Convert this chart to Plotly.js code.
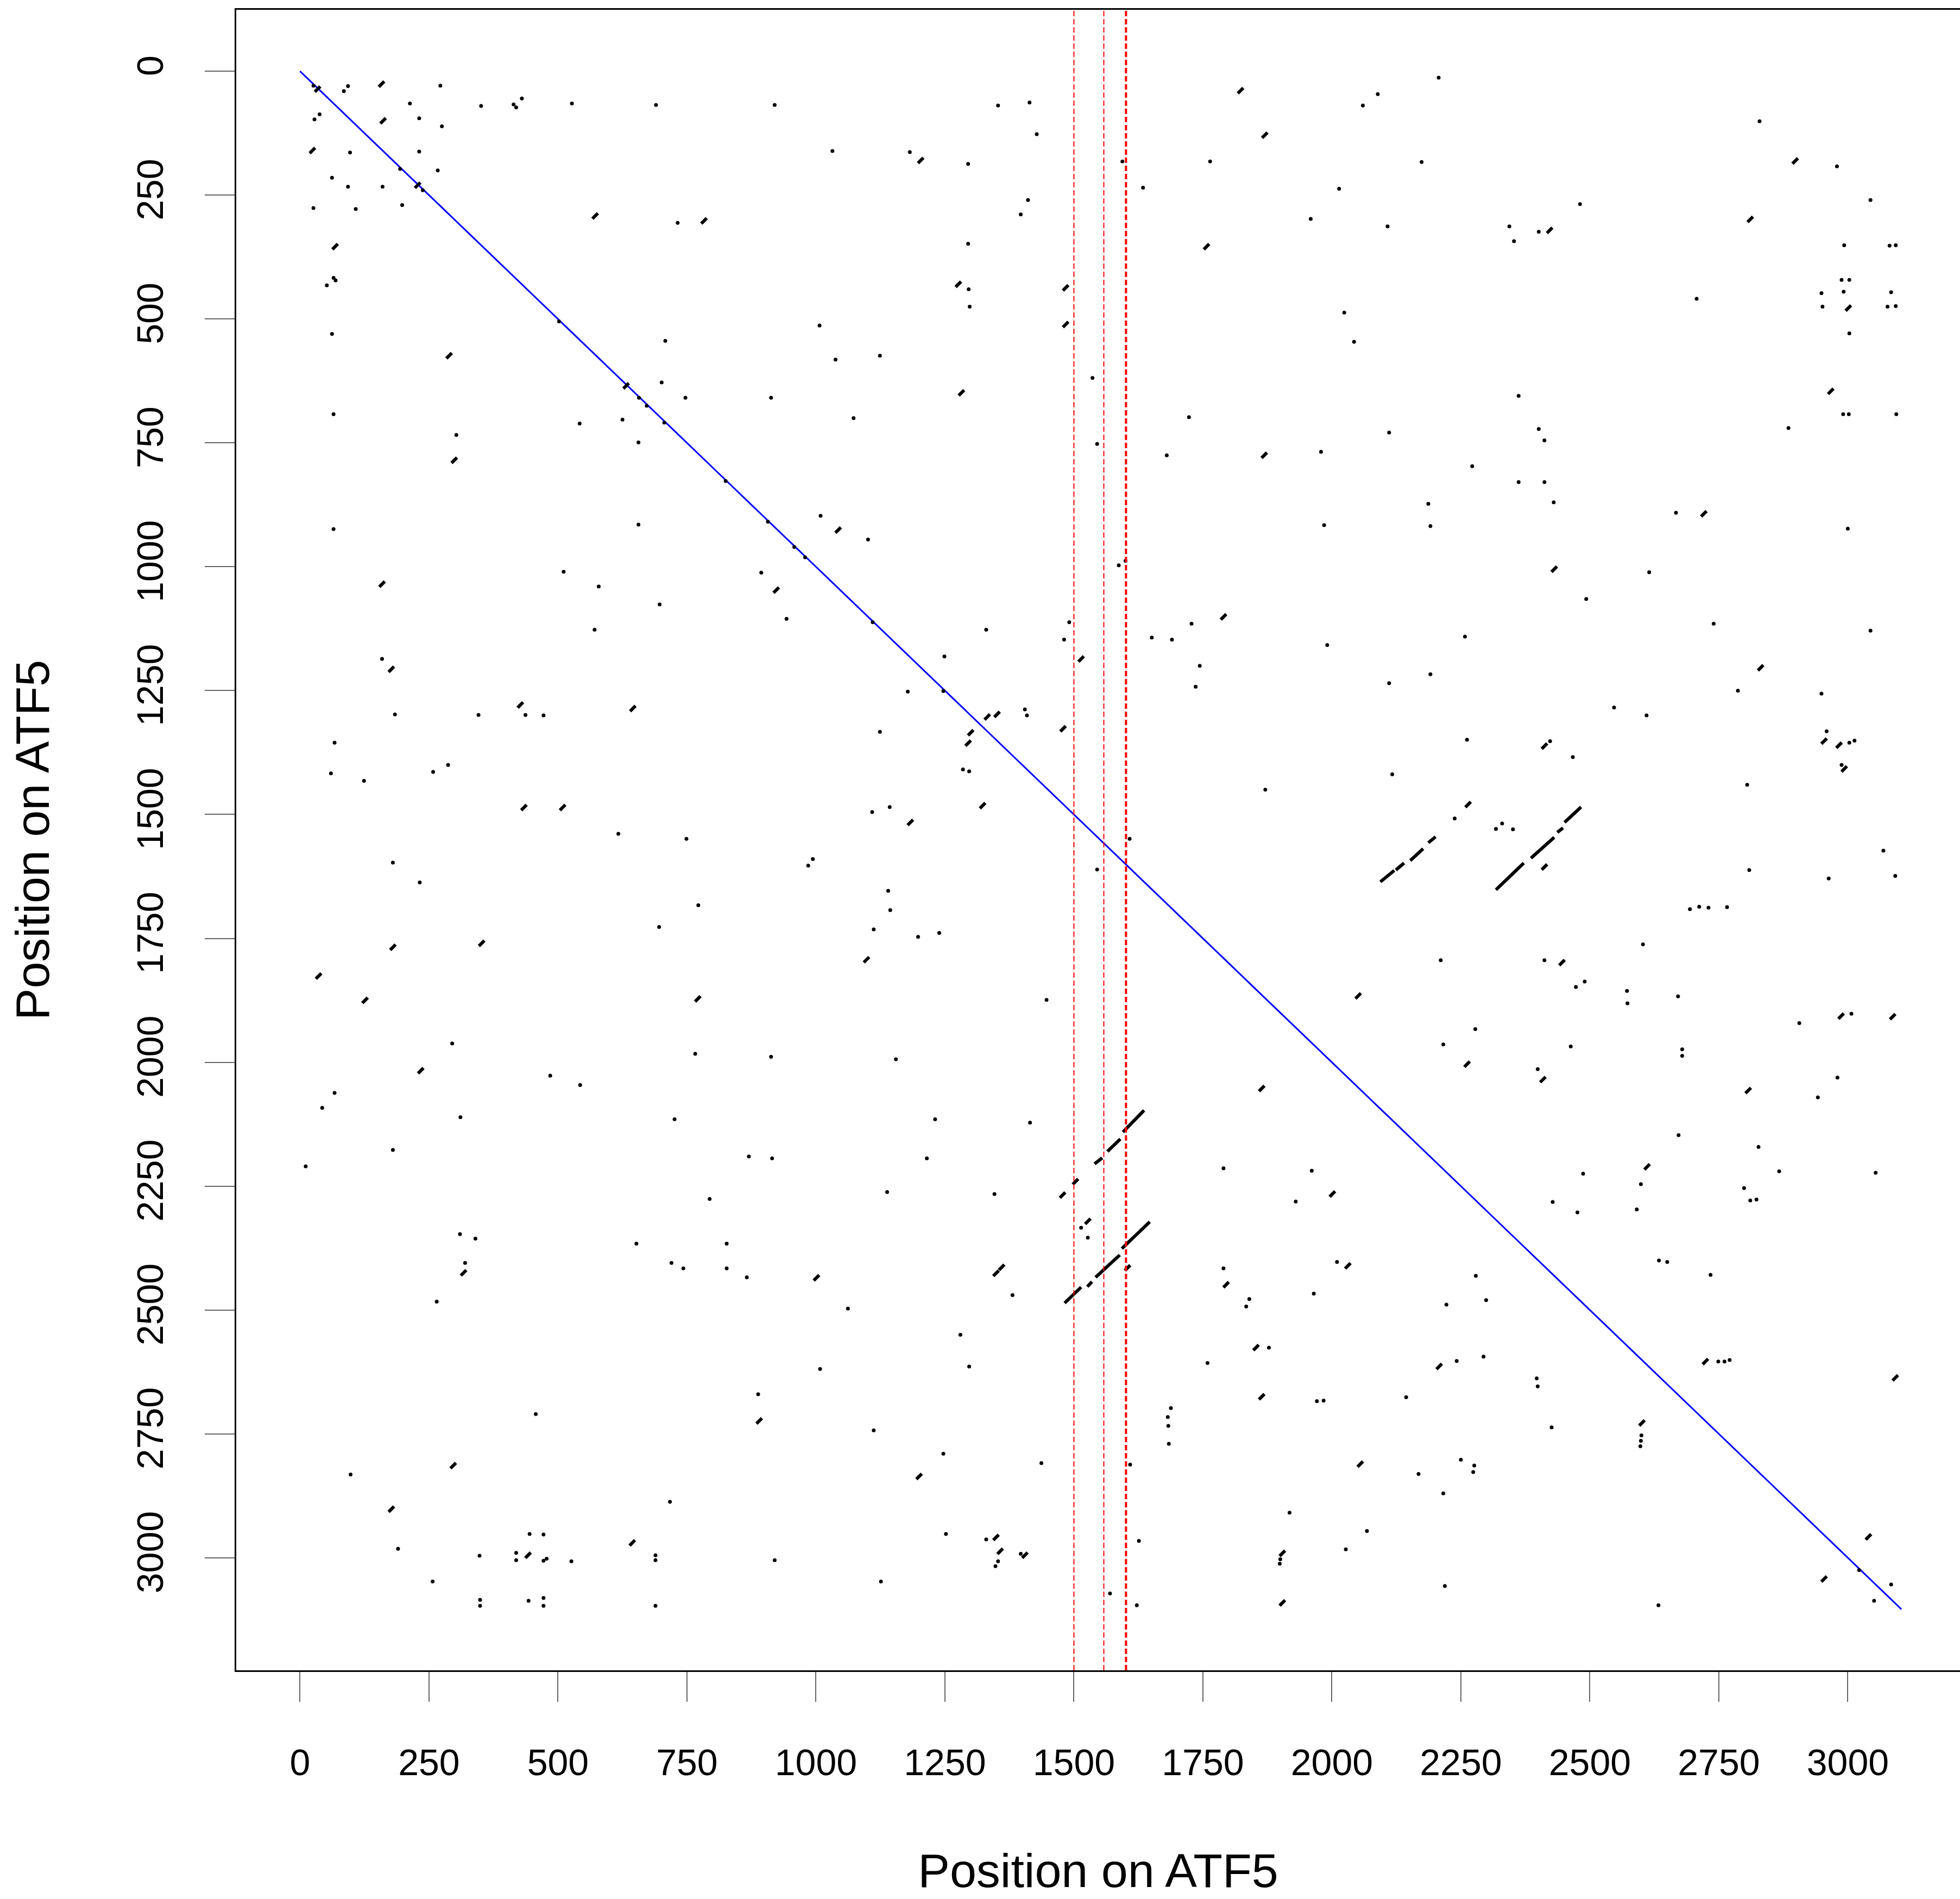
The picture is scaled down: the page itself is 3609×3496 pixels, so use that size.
<!DOCTYPE html>
<html>
<head>
<meta charset="utf-8">
<script src="https://cdn.plot.ly/plotly-3.0.1.min.js"></script>
<style>
html,body{margin:0;padding:0;background:#ffffff;}
#chart{width:3609px;height:3496px;}
</style>
</head>
<body>
<div id="chart"></div>
<script>
// ---------------- data ----------------
const seqLength = 3104;                       // length of ATF5 (self-diagonal)
const tickValues = [0,250,500,750,1000,1250,1500,1750,2000,2250,2500,2750,3000];
const tickLabels = ["0","250","500","750","1000","1250","1500","1750","2000","2250","2500","2750","3000"];
const regionLines = [1500, 1558, 1601];       // vertical marker positions

// short word matches (dots)
const dotX = [
  26,85,93,272,213,351,414,419,430,527,690,920,28,38,231,275,97,231,194,267,62,93,160,238,26,108,198,732,65,69,52,62,502,708,701,657,672,747,913,706,542,625,65,303,656,825,65,656,907,958,979,
  2089,2060,1353,1414,1428,1032,1182,1295,1594,1764,1634,2014,1411,1397,1959,2108,1295,1296,1298,1007,2024,1038,1124,2043,1536,1073,1723,1545,1680,1979,2111,1009,1101,1985,1587,1600,
  2207,2174,2829,2979,3044,2481,2344,2353,2401,2993,3081,3093,2988,3003,2949,2992,3084,2951,3077,3093,2707,3003,2362,2991,3002,3094,2885,2401,2412,2272,2362,2412,2430,2187,2191,2667,3000,
  511,579,894,697,943,571,159,184,346,437,472,67,60,124,258,287,617,749,985,994,180,232,772,696,295,766,913,485,543,67,43,311,726,
  180,11,870,915,794,310,340,320,652,827,720,743,827,866,265,888,457,98,717,445,472,190,348,419,419,472,478,526,689,689,920,257,349,349,443,472,472,689,
  1110,1330,1491,1481,1651,1690,1728,1991,1744,1736,2111,1249,1178,1247,1405,1409,1124,1285,1297,1871,2117,1109,1143,1608,1545,1140,1144,1112,1198,1239,1447,1155,
  2615,2493,2740,3044,2258,2191,2787,2949,2547,2610,2262,2423,2467,2805,2959,3003,3013,2988,2238,2318,2330,2351,3069,2809,2963,3092,2694,2712,2730,2766,2603,2211,2412,2473,2490,2572,2573,2671,2906,3007,2278,2216,2463,2679,2679,2399,2980,2942,
  1231,1415,1215,1138,1346,1790,1961,1930,1062,1381,1790,1840,1834,2010,1965,1280,1008,1297,1759,1878,1971,1984,1688,1682,1683,1684,1112,1247,1437,1609,1918,2068,1626,1252,1330,1353,1348,1397,2027,1900,1899,1126,1570,1622,1514,1527,
  2672,2827,2487,2599,2867,3054,2799,2811,2823,2428,2476,2591,2634,2650,2734,2279,2299,2222,2294,2242,2749,2761,2771,2397,2399,2144,2426,2600,2599,2598,2250,2276,2274,2168,2216,3022,3084,3051,2219,2633
];
const dotY = [
  29,40,30,29,65,70,67,73,55,65,68,68,97,87,95,111,164,162,197,200,215,233,233,240,276,278,270,306,417,422,432,530,505,544,628,659,675,659,659,709,711,703,692,734,749,827,924,915,909,960,981,
  46,69,69,63,127,161,163,187,182,182,235,237,260,289,298,313,348,440,475,513,487,582,574,546,619,700,698,752,775,768,729,897,945,916,997,988,
  13,183,101,192,260,268,313,343,324,351,352,351,421,421,448,445,446,475,475,474,459,529,655,692,692,692,720,722,745,797,829,829,870,873,918,891,923,
  1010,1040,1012,1076,1105,1127,1186,1298,1299,1299,1300,1355,1417,1432,1414,1400,1539,1549,1603,1590,1597,1637,1683,1727,1962,1983,1989,2027,2046,2062,2092,2111,2115,
  2177,2210,2190,2194,2276,2347,2356,2405,2366,2366,2405,2416,2416,2434,2483,2670,2710,2832,2887,2952,2953,2982,2996,2990,3005,3006,3002,3007,2995,3005,3005,3048,3085,3097,3087,3081,3097,3097,
  1112,1127,1112,1147,1143,1147,1115,1158,1200,1242,1235,1181,1252,1251,1288,1300,1333,1409,1413,1450,1419,1495,1485,1549,1611,1654,1693,1732,1747,1739,1874,1994,
  1011,1065,1115,1129,1141,1217,1250,1256,1284,1300,1349,1352,1384,1440,1332,1355,1351,1400,1508,1529,1518,1530,1573,1612,1629,1624,1691,1686,1688,1687,1762,1794,1794,1848,1837,1856,1881,1867,1921,1902,1933,1964,1968,1974,1987,2014,2031,2071,
  2115,2122,2194,2262,2266,2214,2219,2281,2497,2470,2416,2478,2493,2403,2467,2550,2619,2614,2607,2576,2684,2683,2698,2716,2734,2770,2743,2790,2809,2812,2909,2946,2966,2952,2963,3007,3017,2992,2983,3003,3012,3048,3072,3096,2334,2354,
  2147,2171,2225,2246,2220,2223,2254,2279,2277,2282,2303,2297,2400,2403,2429,2431,2480,2489,2594,2603,2604,2604,2601,2638,2654,2676,2737,2753,2764,2775,2802,2814,2827,2831,2870,3025,3054,3087,3057,3096
];

// slightly longer matches (short dashes)
const dashX = [
  34,158,161,24,228,572,783,68,289,632,299,
  1823,1870,1203,1757,1276,1484,1484,1282,1869,1043,
  2898,2811,2422,3001,2967,2721,
  159,923,177,427,645,434,509,180,352,36,126,771,234,
  317,1001,890,297,177,644,442,
  1514,1790,1332,1351,1479,1300,1295,1323,1183,1098,2051,1864,
  2431,2831,2412,2954,2983,2993,2264,2412,2446,2987,3087,2262,2409,2807,
  1503,1478,2001,1349,1360,1604,1795,2031,1853,1864,1200,2055,1349,1357,1405,1904,1904,1527,
  2611,2208,2724,3092,2601,3040,2954
];
const dashY = [
  36,26,100,160,230,292,302,354,574,635,785,
  39,129,180,354,430,437,511,649,775,926,
  181,299,321,478,646,893,
  1035,1047,1207,1279,1286,1486,1486,1768,1760,1826,1875,1872,2017,
  2425,2435,2724,2814,2902,2970,2995,
  1186,1101,1303,1298,1327,1335,1356,1482,1516,1793,1866,2053,
  1005,1204,1362,1352,1360,1408,1480,1606,1799,1907,1908,2004,2035,2057,
  2241,2268,2266,2426,2414,2415,2449,2411,2576,2675,2836,2811,2959,2987,2995,2991,3091,2321,
  2211,2614,2604,2637,2728,2958,3043
];

// long inverted-repeat runs (start / end)
const runX0 = [2094,2124,2152,2187,2318,2386,2437,2451,1540,1565,1595,1482,1526,1542,1593];
const runY0 = [1636,1612,1593,1557,1652,1588,1536,1516,2205,2180,2141,2486,2453,2434,2376];
const runX1 = [2121,2140,2177,2201,2372,2431,2448,2483,1555,1590,1636,1514,1535,1589,1647];
const runY1 = [1613,1598,1569,1545,1598,1546,1527,1485,2193,2155,2097,2454,2443,2389,2322];

// ---------------- build traces ----------------
const rx = [], ry = [];
for (let i = 0; i < runX0.length; i++) {
  rx.push(runX0[i], runX1[i], null);
  ry.push(runY0[i], runY1[i], null);
}

const traces = [
  { type:'scatter', mode:'lines', x:[0, seqLength], y:[0, seqLength],
    line:{color:'#0000ff', width:3}, hoverinfo:'skip' },
  { type:'scatter', mode:'lines', x:rx, y:ry,
    line:{color:'#000000', width:6}, hoverinfo:'skip' },
  { type:'scatter', mode:'markers', x:dotX, y:dotY,
    marker:{symbol:'circle', size:7, color:'#000000', line:{width:0}}, hoverinfo:'skip' },
  { type:'scatter', mode:'markers', x:dashX, y:dashY,
    marker:{symbol:'line-ne', size:10, color:'#000000', line:{color:'#000000', width:6}}, hoverinfo:'skip' }
];

const lineWidths = [2, 2, 4];
const shapes = regionLines.map((v, i) => ({
  type:'line', xref:'x', yref:'paper', x0:v, x1:v, y0:0, y1:1, layer:'above',
  line:{color:'#ff0000', width:lineWidths[i], dash:'10px,5px'}
}));

const fontFamily = '"Liberation Sans", Arial, Helvetica, sans-serif';

const layout = {
  width:3609, height:3496,
  margin:{l:435, r:0, t:18, b:421, autoexpand:false},
  paper_bgcolor:'#ffffff', plot_bgcolor:'#ffffff',
  showlegend:false,
  font:{family:fontFamily, color:'#000000'},
  shapes:shapes,
  xaxis:{
    range:[-123.6, 3217.5], autorange:false,
    tickmode:'array', tickvals:tickValues, ticktext:tickLabels,
    ticks:'outside', ticklen:55, tickwidth:2, tickcolor:'#666666',
    showline:true, linecolor:'#000000', linewidth:3, mirror:true,
    showgrid:false, zeroline:false, automargin:false,
    tickfont:{size:68, family:fontFamily, color:'#000000'},
    ticklabelstandoff:53,
    title:{text:'Position on ATF5', font:{size:88, family:fontFamily, color:'#000000'}, standoff:132}
  },
  yaxis:{
    range:[3227.2, -124.1], autorange:false,
    tickmode:'array', tickvals:tickValues, ticktext:tickLabels,
    ticks:'outside', ticklen:55, tickwidth:2, tickcolor:'#666666',
    showline:true, linecolor:'#000000', linewidth:3, mirror:false,
    showgrid:false, zeroline:false, automargin:false,
    tickangle:-90,
    tickfont:{size:68, family:fontFamily, color:'#000000'},
    ticklabelstandoff:50,
    title:{text:'Position on ATF5', font:{size:88, family:fontFamily, color:'#000000'}, standoff:118}
  }
};

Plotly.newPlot('chart', traces, layout, {staticPlot:true, displayModeBar:false});
</script>
</body>
</html>
